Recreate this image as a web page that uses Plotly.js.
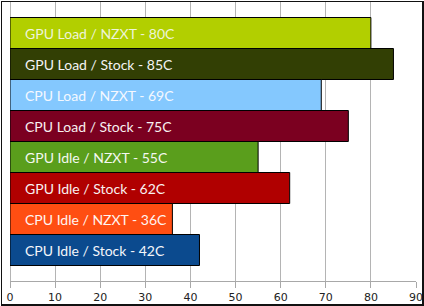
<!DOCTYPE html>
<html>
<head>
<meta charset="utf-8">
<script src="https://cdn.plot.ly/plotly-3.0.1.min.js"></script>
<style>
  html, body { margin: 0; padding: 0; background: #fff; }
  #wrap { position: relative; width: 424px; height: 306px; }
  #chart { width: 424px; height: 306px; }
  #frame { position: absolute; left: 1px; top: 1px; width: 420px; height: 302px; border: 1px solid #111; border-right-width: 2px; border-bottom-width: 2px; pointer-events: none; }
</style>
</head>
<body>
<div id="wrap"><div id="chart"></div><div id="frame"></div></div>
<script>
const labels = [
  "GPU Load / NZXT - 80C",
  "GPU Load / Stock - 85C",
  "CPU Load / NZXT - 69C",
  "CPU Load / Stock - 75C",
  "GPU Idle / NZXT - 55C",
  "GPU Idle / Stock - 62C",
  "CPU Idle / NZXT - 36C",
  "CPU Idle / Stock - 42C"
];
const values = [80, 85, 69, 75, 55, 62, 36, 42];
const colors = ["#b2cf00", "#323f04", "#84c8fe", "#7b0020", "#5a9e1c", "#b00000", "#ff4e12", "#0b4a8e"];
const textColors = ["#eef4d8", "#f4f4f4", "#f4f8ff", "#f8f0f0", "#f4f8f0", "#f8f0f0", "#fff4f0", "#f4f6fa"];
const tickVals = [0, 10, 20, 30, 40, 50, 60, 70, 80, 90];

const trace = {
  type: "bar",
  orientation: "h",
  x: values,
  y: labels,
  marker: { color: colors, line: { color: "#000", width: 1 } },
  hoverinfo: "none"
};

const annotations = labels.map((t, i) => ({
  x: 0, y: t, xref: "x", yref: "y",
  text: t, showarrow: false, xanchor: "left", xshift: 13,
  font: { family: "Lato, 'Open Sans', sans-serif", size: 14, color: textColors[i] }
}));

const layout = {
  width: 424, height: 306,
  margin: { l: 10, r: 8, t: 2, b: 25, pad: 0 },
  paper_bgcolor: "#fff", plot_bgcolor: "#fff",
  bargap: 0,
  showlegend: false,
  xaxis: {
    range: [0, 90], tickvals: tickVals, ticktext: tickVals.map(String),
    showgrid: true, gridcolor: "#b4b4b4", gridwidth: 1,
    zeroline: true, zerolinecolor: "#b4b4b4", zerolinewidth: 1,
    showline: true, linecolor: "#a8a8a8", linewidth: 1,
    ticks: "outside", ticklen: 6, tickcolor: "#a8a8a8",
    tickfont: { family: "'DejaVu Sans', Verdana, sans-serif", size: 11, color: "#222" },
    fixedrange: true
  },
  yaxis: {
    type: "category", range: [7.5 + 0.5, -1],
    showticklabels: false, showgrid: false, zeroline: false, ticks: "",
    fixedrange: true
  },
  annotations: annotations
};

Plotly.newPlot("chart", [trace], layout, { displayModeBar: false, staticPlot: true });
</script>
</body>
</html>
